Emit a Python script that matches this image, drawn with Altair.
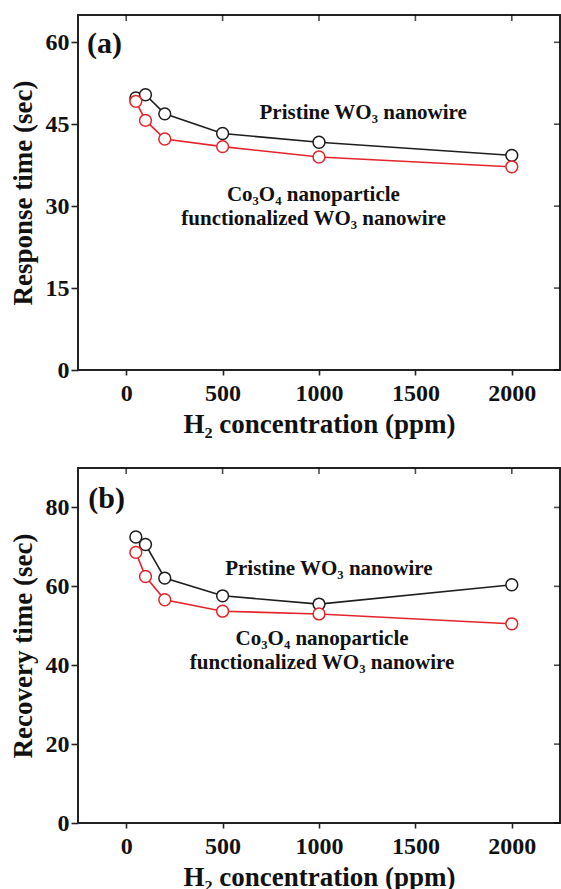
import altair as alt
import pandas as pd

# ---------------- data ----------------
conc = [50, 100, 200, 500, 1000, 2000]
series_names = ["Pristine", "Co3O4"]
resp_pristine = [49.8, 50.4, 46.9, 43.3, 41.7, 39.3]
resp_co3o4 = [49.2, 45.7, 42.3, 40.9, 39.0, 37.2]
rec_pristine = [72.5, 70.6, 62.1, 57.6, 55.5, 60.4]
rec_co3o4 = [68.6, 62.5, 56.6, 53.7, 53.0, 50.5]

x_ticks = [0, 500, 1000, 1500, 2000]
resp_ticks = [0, 15, 30, 45, 60]
rec_ticks = [0, 20, 40, 60, 80]

ann_text = ["Pristine WO₃ nanowire", "Co₃O₄ nanoparticle", "functionalized WO₃ nanowire"]
ann_a_x = [1229, 971, 972]
ann_a_y = [47.1, 32.1, 27.7]
ann_b_x = [1051, 1016, 1016]
ann_b_y = [64.4, 46.7, 40.6]

FONT = "Liberation Serif"
W, H = 482, 355
colors = ["#1e1e1e", "#e3242b"]


def panel(p_vals, c_vals, ydom, yticks, ytitle, label, lab_xy, ax, ay):
    df = pd.DataFrame({
        "conc": conc * 2,
        "val": p_vals + c_vals,
        "series": [series_names[0]] * len(conc) + [series_names[1]] * len(conc),
    })
    xs = alt.Scale(domain=[-250, 2250], nice=False, zero=False)
    ys = alt.Scale(domain=ydom, nice=False, zero=False)
    xaxis = alt.Axis(values=x_ticks, title="H₂ concentration (ppm)", format="d")
    yaxis = alt.Axis(values=yticks, title=ytitle, format="d")
    col = alt.Color("series:N", scale=alt.Scale(domain=series_names, range=colors), legend=None)

    X = alt.X("conc:Q", scale=xs, axis=xaxis)
    Y = alt.Y("val:Q", scale=ys, axis=yaxis)

    layers = []
    for s in series_names:
        sub = df[df.series == s]
        base = alt.Chart(sub).encode(x=X, y=Y, color=col)
        layers.append(base.mark_line(strokeWidth=1.6))
        layers.append(base.mark_point(shape="circle", size=140, filled=False,
                                      fill="white", fillOpacity=1, opacity=1, strokeWidth=1.5))

    # mirrored inward ticks (top and right)
    top = alt.Chart(pd.DataFrame({"conc": x_ticks})).mark_tick(
        color="black", thickness=1.6, size=6
    ).encode(x=X, y=alt.value(3))
    right = alt.Chart(pd.DataFrame({"val": yticks})).mark_tick(
        color="black", thickness=1.6, size=6
    ).encode(y=Y, x=alt.value(W - 3))
    layers += [top, right]

    ann = pd.DataFrame({"conc": ax, "val": ay, "t": ann_text})
    layers.append(alt.Chart(ann).mark_text(
        font=FONT, fontWeight="bold", fontSize=21, color="#111"
    ).encode(x=X, y=Y, text="t:N"))

    lab = pd.DataFrame({"conc": [lab_xy[0]], "val": [lab_xy[1]], "t": [label]})
    layers.append(alt.Chart(lab).mark_text(
        font=FONT, fontWeight="bold", fontSize=30, color="#111"
    ).encode(x=X, y=Y, text="t:N"))

    return alt.layer(*layers).properties(width=W, height=H)


pa = panel(resp_pristine, resp_co3o4, [0, 65], resp_ticks, "Response time (sec)", "(a)", (-112, 59.6), ann_a_x, ann_a_y)
pb = panel(rec_pristine, rec_co3o4, [0, 90], rec_ticks, "Recovery time (sec)", "(b)", (-102, 82.2), ann_b_x, ann_b_y)

chart = alt.vconcat(pa, pb, spacing=29).properties(
    padding={"left": 8, "top": 14, "right": 0, "bottom": 0},
    background="white",
).configure_view(
    stroke="#222", strokeWidth=2
).configure_axis(
    domain=False,
    ticks=True, tickColor="#222", tickWidth=1.6,
    grid=False,
    labelFont=FONT, labelFontWeight="bold", labelFontSize=24, labelColor="#111",
    titleFont=FONT, titleFontWeight="bold", titleFontSize=27, titleColor="#111",
).configure_axisY(
    tickSize=7, labelPadding=2, titlePadding=8
).configure_axisX(
    tickSize=5, labelPadding=6, titlePadding=6
)

chart.save("out.html", embed_options={"renderer": "svg", "actions": False})
